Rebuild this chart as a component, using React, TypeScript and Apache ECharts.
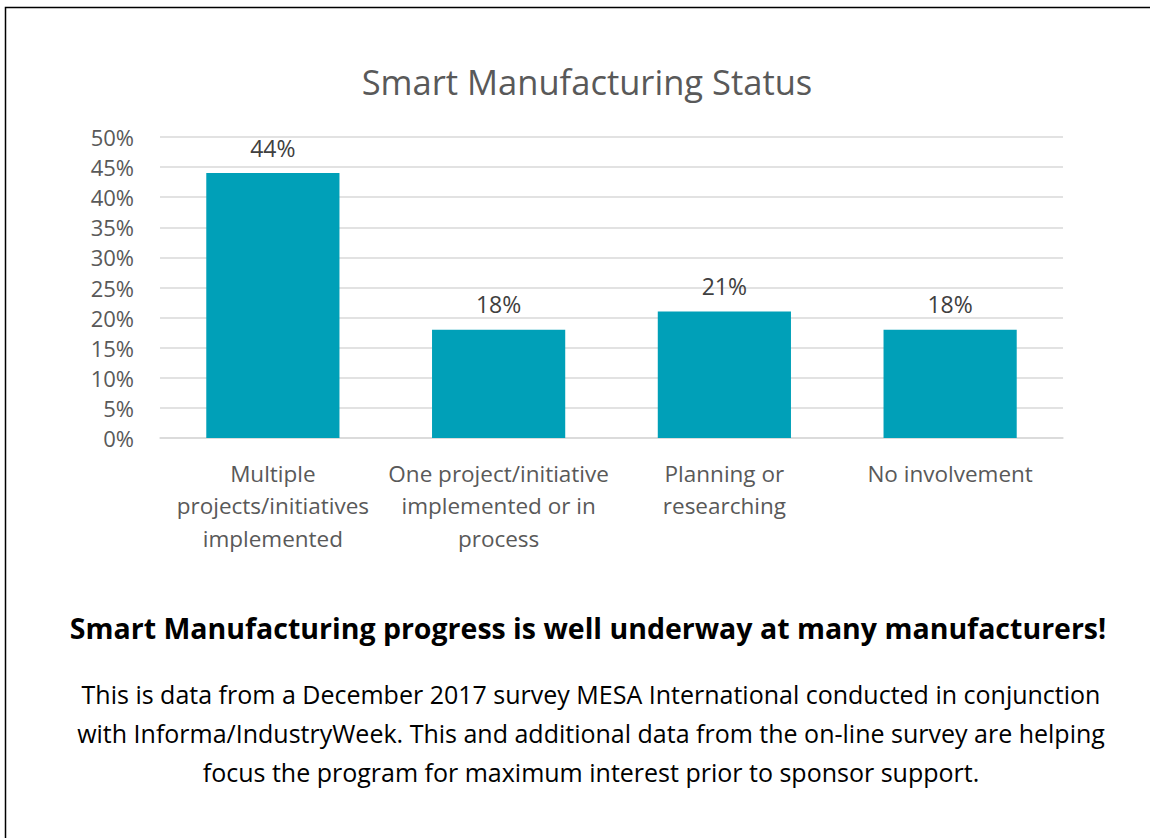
import React, { useEffect, useRef } from "react";
import * as echarts from "echarts";

const categories = [
  "Multiple\nprojects/initiatives\nimplemented",
  "One project/initiative\nimplemented or in\nprocess",
  "Planning or\nresearching",
  "No involvement",
];
const values = [44, 18, 21, 18];
const chartTitle = "Smart Manufacturing Status";
const headline = "Smart Manufacturing progress is well underway at many manufacturers!";
const paragraph = [
  "This is data from a December 2017 survey MESA International conducted in conjunction",
  "with Informa/IndustryWeek. This and additional data from the on-line survey are helping",
  "focus the program for maximum interest prior to sponsor support.",
];

const FONT = "'Open Sans', 'Noto Sans', sans-serif";

export default function App() {
  const ref = useRef<HTMLDivElement>(null);
  useEffect(() => {
    if (!ref.current) return;
    const chart = echarts.init(ref.current, null, { renderer: "svg" });
    chart.setOption({
      animation: false,
      backgroundColor: "#ffffff",
      textStyle: { fontFamily: FONT },
      title: {
        text: chartTitle,
        left: 582,
        textAlign: "center",
        top: 59,
        textStyle: { fontFamily: FONT, fontSize: 34.5, fontWeight: "normal", color: "#595959" },
      },
      grid: { left: 160, right: 87, top: 137, bottom: 400, containLabel: false },
      xAxis: {
        type: "category",
        data: categories,
        axisLine: { show: true, lineStyle: { color: "#d9d9d9", width: 1.5 } },
        axisTick: { show: false },
        axisLabel: {
          color: "#595959",
          fontSize: 22.5,
          fontFamily: FONT,
          margin: 19,
          lineHeight: 32.5,
          interval: 0,
        },
      },
      yAxis: {
        type: "value",
        min: 0,
        max: 50,
        interval: 5,
        axisLine: { show: false },
        axisTick: { show: false },
        splitLine: { lineStyle: { color: "#d9d9d9", width: 1.5 } },
        axisLabel: {
          color: "#595959",
          fontSize: 22,
          fontFamily: FONT,
          margin: 26,
          formatter: (v: number) => `${v}%`,
        },
      },
      series: [
        {
          type: "bar",
          data: values,
          barWidth: "59%",
          itemStyle: { color: "#00A0B8" },
          label: {
            show: true,
            position: "top",
            distance: 14,
            color: "#404040",
            fontSize: 23,
            fontFamily: FONT,
            formatter: (p: any) => `${p.value}%`,
          },
        },
      ],
      graphic: [
        {
          type: "rect",
          shape: { x: 5.5, y: 7.5, width: 1200, height: 900 },
          style: { fill: "none", stroke: "#000000", lineWidth: 1.5 },
          silent: true,
        },
        {
          type: "text",
          x: 588,
          y: 628,
          style: {
            text: headline,
            fill: "#000000",
            font: `bold 28.5px ${FONT}`,
            textAlign: "center",
            textVerticalAlign: "middle",
          },
        },
        ...paragraph.map((line, i) => ({
          type: "text",
          x: 591,
          y: 694 + i * 39,
          style: {
            text: line,
            fill: "#000000",
            font: `25px ${FONT}`,
            textAlign: "center",
            textVerticalAlign: "middle",
          },
        })),
      ],
    });
    return () => chart.dispose();
  }, []);
  return (
    <div
      ref={ref}
      style={{ position: "fixed", left: 0, top: 0, width: 1150, height: 838, background: "#fff" }}
    />
  );
}
